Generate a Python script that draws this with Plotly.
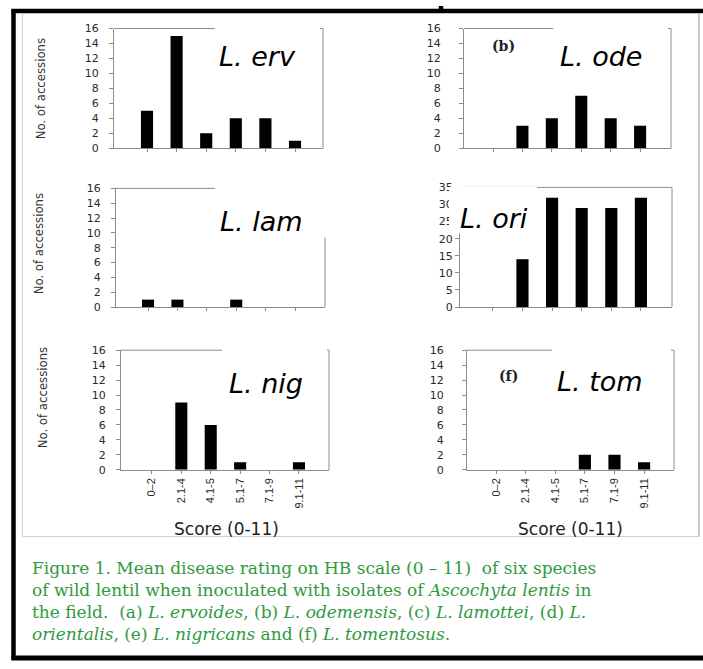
import plotly.graph_objects as go

# Score classes on the HB scale (0-11)
score_bins = ["0–2", "2.1-4", "4.1-5", "5.1-7", "7.1-9", "9.1-11"]

# Number of accessions per score class for each species
l_ervoides = [5, 15, 2, 4, 4, 1]
l_odemensis = [0, 3, 4, 7, 4, 3]
l_lamottei = [1, 1, 0, 1, 0, 0]
l_orientalis = [0, 14, 32, 29, 29, 32]
l_nigricans = [0, 9, 6, 1, 0, 1]
l_tomentosus = [0, 0, 0, 2, 2, 1]

species_labels = ["L. erv", "L. ode", "L. lam", "L. ori", "L. nig", "L. tom"]
y_ticks_16 = [0, 2, 4, 6, 8, 10, 12, 14, 16]
y_ticks_35 = [0, 5, 10, 15, 20, 25, 30, 35]

W, H = 703, 669


def px(x):
    return x / W


def py(y):
    return 1 - y / H


# panel geometry in pixels: (left, right, top, bottom, x-range, tick-label standoff)
panels = [
    (114, 323, 23, 145, [-1.115, 5.946], 8),
    (464, 671, 23, 145, [-0.986, 6.05], 16),
    (116, 325, 186, 307, [-1.09, 6.02], 8),
    (460, 672, 185, 307, [-1.11, 6.05], 0),
    (121, 329, 351, 473, [-1.05, 6.02], 8),
    (467, 674, 351, 473, [-0.98, 6.01], 16),
]
series = [l_ervoides, l_odemensis, l_lamottei, l_orientalis, l_nigricans, l_tomentosus]

AX_GREY = "#8c8c8c"
TICK_FONT = dict(family="DejaVu Sans", size=11, color="#2a2a2a")

fig = go.Figure()
layout = dict(
    width=W, height=H,
    margin=dict(l=0, r=0, t=0, b=0),
    paper_bgcolor="white", plot_bgcolor="white",
    showlegend=False,
)

for i, ((l, r, t, b, xr, standoff), vals) in enumerate(zip(panels, series)):
    n = i + 1
    sfx = "" if n == 1 else str(n)
    fig.add_trace(go.Bar(
        x=score_bins, y=vals, width=0.41,
        marker=dict(color="black", line=dict(width=0)),
        xaxis="x" + sfx, yaxis="y" + sfx,
    ))
    bottom_row = i >= 4
    layout["xaxis" + sfx] = dict(
        domain=[px(l), px(r)], anchor="y" + sfx, range=xr,
        type="category", showgrid=False, zeroline=False,
        showline=True, linecolor=AX_GREY, linewidth=1,
        ticks="outside", ticklen=3, tickcolor=AX_GREY, tickwidth=1,
        showticklabels=bottom_row, tickangle=-90,
        tickfont=dict(family="Liberation Sans", size=11, color="#2a2a2a"),
        fixedrange=True,
    )
    if i == 3:
        yr, yt = [0, 35], y_ticks_35
    else:
        yr, yt = [0, 16], y_ticks_16
    layout["yaxis" + sfx] = dict(
        domain=[py(b), py(t)], anchor="x" + sfx, range=yr,
        tickvals=yt, showgrid=False, zeroline=False,
        showline=True, linecolor=AX_GREY, linewidth=1,
        ticks="outside", ticklen=4, tickcolor=AX_GREY, tickwidth=1,
        tickfont=TICK_FONT, ticklabelstandoff=standoff,
        fixedrange=True,
    )

shapes = []
# top and right frame lines of each panel
for n in range(1, 7):
    sfx = "" if n == 1 else str(n)
    shapes.append(dict(type="line", xref=f"x{sfx} domain", yref=f"y{sfx} domain",
                       x0=0, x1=1, y0=1, y1=1, line=dict(color=AX_GREY, width=1), layer="above"))
    shapes.append(dict(type="line", xref=f"x{sfx} domain", yref=f"y{sfx} domain",
                       x0=1, x1=1, y0=0, y1=1, line=dict(color=AX_GREY, width=1), layer="above"))

# white panels behind the species names
label_boxes = [
    (215, 320, 10, 40),
    (553, 668, 10, 40),
    (215, 336, 176, 236),
    (449, 537, 184.5, 232),
    (222, 327, 340, 370),
    (552, 671, 340, 370),
]
for (x0, x1, y0, y1) in label_boxes:
    shapes.append(dict(type="rect", xref="paper", yref="paper",
                       x0=px(x0), x1=px(x1), y0=py(y1), y1=py(y0),
                       fillcolor="white", line=dict(width=0), layer="above"))

# inner light frame around the panels
shapes += [
    dict(type="line", xref="paper", yref="paper", x0=px(22.5), x1=px(22.5), y0=py(541), y1=py(8),
         line=dict(color="#d0d0d0", width=1)),
    dict(type="line", xref="paper", yref="paper", x0=px(22.5), x1=px(699), y0=py(541), y1=py(541),
         line=dict(color="#d0d0d0", width=1)),
    dict(type="line", xref="paper", yref="paper", x0=px(699), x1=px(699), y0=py(541), y1=py(8),
         line=dict(color="#bdbdbd", width=1.5)),
]
# outer black border
BLK = dict(color="black", width=4.5)
shapes += [
    dict(type="line", xref="paper", yref="paper", x0=px(13.5), x1=px(13.5), y0=py(667), y1=py(3), line=BLK),
    dict(type="line", xref="paper", yref="paper", x0=px(11.5), x1=px(441), y0=py(5), y1=py(5), line=BLK),
    dict(type="line", xref="paper", yref="paper", x0=px(441), x1=px(441), y0=py(7), y1=py(0), line=BLK),
    dict(type="line", xref="paper", yref="paper", x0=px(441), x1=px(703), y0=py(5), y1=py(5), line=BLK),
    dict(type="line", xref="paper", yref="paper", x0=px(11.5), x1=px(703), y0=py(665), y1=py(665),
         line=dict(color="black", width=5)),
]
layout["shapes"] = shapes

annotations = []
# species names
name_pos = [(257, 52), (601, 51), (261, 220), (494, 217), (266, 385), (600, 383)]
for name, (x, y) in zip(species_labels, name_pos):
    annotations.append(dict(text=f"<i>{name}</i>", x=px(x), y=py(y), xref="paper", yref="paper",
                            showarrow=False, xanchor="center", yanchor="middle",
                            font=dict(family="DejaVu Sans", size=27, color="black")))
# panel letters
for letter, (x, y) in [("(b)", (503, 41)), ("(f)", (508, 377))]:
    annotations.append(dict(text=f"<b>{letter}</b>", x=px(x), y=py(y), xref="paper", yref="paper",
                            showarrow=False, xanchor="center", yanchor="middle",
                            font=dict(family="DejaVu Serif", size=14, color="#222")))
# y-axis titles of the left column
for (x, y) in [(40, 85), (38, 243), (42, 400)]:
    annotations.append(dict(text="No. of accessions", x=px(x), y=py(y), xref="paper", yref="paper",
                            showarrow=False, textangle=-90, xanchor="center", yanchor="middle",
                            font=dict(family="Liberation Sans Narrow, DejaVu Sans Condensed", size=13,
                                      color="#333")))
# x-axis titles of the bottom row
for x in (226, 570):
    annotations.append(dict(text="Score (0-11)", x=px(x), y=py(533), xref="paper", yref="paper",
                            showarrow=False, xanchor="center", yanchor="middle",
                            font=dict(family="DejaVu Sans", size=17, color="#222")))

# figure caption
caption_lines = [
    "Figure 1. Mean disease rating on HB scale (0 – 11)  of six species",
    "of wild lentil when inoculated with isolates of <i>Ascochyta lentis</i> in",
    "the field.  (a) <i>L. ervoides</i>, (b) <i>L. odemensis</i>, (c) <i>L. lamottei</i>, (d) <i>L.</i>",
    "<i>orientalis</i>, (e) <i>L. nigricans</i> and (f) <i>L. tomentosus</i>.",
]
annotations.append(dict(text="<br>".join(caption_lines), x=px(30), y=py(607), xref="paper", yref="paper",
                        showarrow=False, xanchor="left", yanchor="middle", align="left",
                        font=dict(family="DejaVu Serif", size=17, color="#2f9a3e")))
layout["annotations"] = annotations

fig.update_layout(**layout)
fig.write_html("out.html", config={"displayModeBar": False})
